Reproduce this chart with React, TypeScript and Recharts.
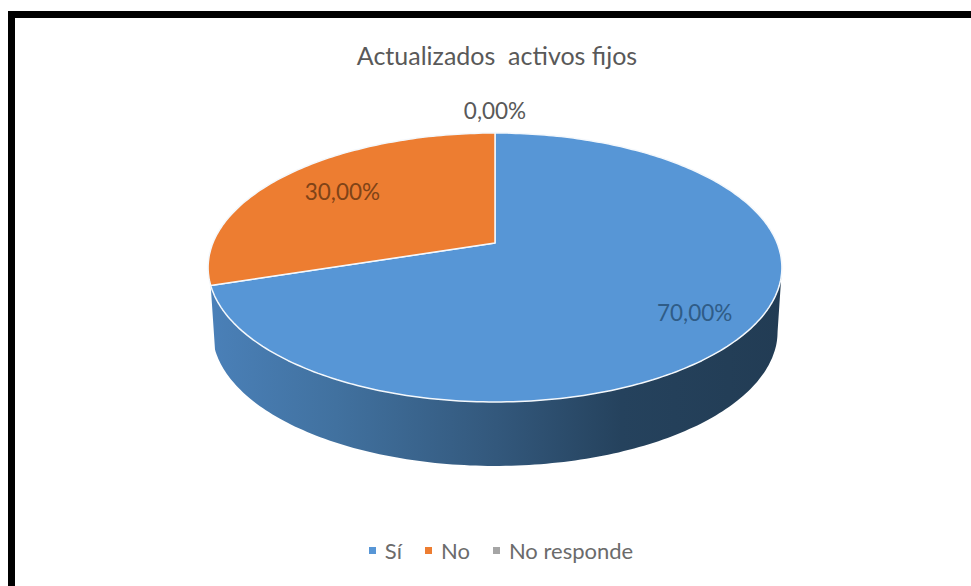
import React from "react";
import { PieChart, Pie, Cell, Legend } from "recharts";

const categories = ["Sí", "No", "No responde"];
const values = [70, 30, 0];
const colors = ["#5796d6", "#ed7d31", "#a5a5a5"];
const labelColors = ["#2f5c87", "#7f4317", "#595959"];
const title = "Actualizados  activos fijos";

const rows = categories.map((name, i) => ({ name, value: values[i] }));

// Perspective of the tilted disc
const TILT = 0.182;
const X_STRETCH = 2.17;
const DEPTH = 64;
const BOTTOM_SCALE = 0.985;
const RAD = Math.PI / 180;
const LABEL_RADII = [0.8, 0.72, 1.25];
const FONT = "Lato, sans-serif";

function project(cx: number, cy: number, r: number, deg: number, f = 1) {
  const u = Math.cos(deg * RAD) * f;
  const v = Math.sin(deg * RAD) * f;
  const d = 1 + TILT * v;
  return [cx + (r * X_STRETCH * u) / d, cy - (r * v) / d];
}

function arc(cx: number, cy: number, r: number, a: number, b: number) {
  const n = Math.max(2, Math.ceil(Math.abs(a - b)));
  const pts: number[][] = [];
  for (let i = 0; i <= n; i++) pts.push(project(cx, cy, r, a + ((b - a) * i) / n));
  return pts;
}

const toPath = (pts: number[][]) =>
  pts.map((p, i) => `${i ? "L" : "M"}${p[0].toFixed(1)},${p[1].toFixed(1)}`).join(" ");

function Slice(props: any) {
  const { cx, cy, outerRadius, startAngle, endAngle, fill, index } = props;
  if (startAngle === endAngle) return null;
  const top = arc(cx, cy, outerRadius, startAngle, endAngle);
  let wall = null;
  if (index === 0) {
    const silhouette = -Math.asin(TILT) / RAD;
    const rim = arc(cx, cy, outerRadius, endAngle, silhouette);
    const bottom = rim
      .map((p) => [cx + (p[0] - cx) * BOTTOM_SCALE, p[1] + DEPTH])
      .reverse();
    wall = <path d={toPath([...rim, ...bottom]) + " Z"} fill="url(#wallGradient)" />;
  }
  return (
    <g>
      {wall}
      <path
        d={`${toPath([[cx, cy], ...top])} Z`}
        fill={fill}
        stroke="#f4f8fc"
        strokeWidth={1.5}
        strokeLinejoin="round"
      />
    </g>
  );
}

function SliceLabel(props: any) {
  const { cx, cy, outerRadius, midAngle, index, percent } = props;
  const [x, y] = project(cx, cy, outerRadius, midAngle, LABEL_RADII[index]);
  return (
    <text
      x={x}
      y={y + (index === 0 ? 3 : 0)}
      textAnchor="middle"
      dominantBaseline="central"
      fontFamily={FONT}
      fontSize={22.5}
      fill={labelColors[index]}
    >
      {(percent * 100).toFixed(2).replace(".", ",") + "%"}
    </text>
  );
}

function LegendContent({ payload }: any) {
  return (
    <div style={{ display: "flex", justifyContent: "center", fontFamily: FONT, fontSize: 22, color: "#6b6b6b" }}>
      {(payload || []).map((e: any) => (
        <span key={e.value} style={{ display: "flex", alignItems: "center", marginRight: 23 }}>
          <span style={{ width: 7, height: 7, background: e.color, marginRight: 9 }} />
          {e.value}
        </span>
      ))}
    </div>
  );
}

export default function App() {
  return (
    <div style={{ position: "absolute", left: 0, top: 0, width: 971, height: 586, background: "#fff", overflow: "hidden" }}>
      <div style={{ position: "absolute", left: 8, top: 11, width: 963, height: 7, background: "#000" }} />
      <div style={{ position: "absolute", left: 8, top: 11, width: 7, height: 575, background: "#000" }} />
      <div style={{ position: "absolute", left: 0, top: 0 }}>
        <PieChart width={971} height={586} margin={{ top: 0, right: 0, bottom: 0, left: 0 }}>
          <defs>
            <linearGradient id="wallGradient" x1="0" y1="0" x2="1" y2="0">
              <stop offset="0" stopColor="#4a80b8" />
              <stop offset="0.22" stopColor="#41719f" />
              <stop offset="0.5" stopColor="#33587c" />
              <stop offset="0.72" stopColor="#25425d" />
              <stop offset="1" stopColor="#223c54" />
            </linearGradient>
          </defs>
          <text x={497} y={55} textAnchor="middle" dominantBaseline="central" fontFamily={FONT} fontSize={25} fill="#595959" style={{ whiteSpace: "pre" }}>
            {title}
          </text>
          <Pie
            data={rows}
            dataKey="value"
            nameKey="name"
            cx={495}
            cy={243}
            outerRadius={130}
            startAngle={90}
            endAngle={-270}
            stroke="none"
            shape={Slice}
            label={SliceLabel}
            labelLine={false}
            isAnimationActive={false}
          >
            {rows.map((r, i) => (
              <Cell key={r.name} fill={colors[i]} />
            ))}
          </Pie>
          <Legend content={LegendContent} itemSorter={null} wrapperStyle={{ left: 54, width: 917, top: 537 }} />
        </PieChart>
      </div>
    </div>
  );
}
